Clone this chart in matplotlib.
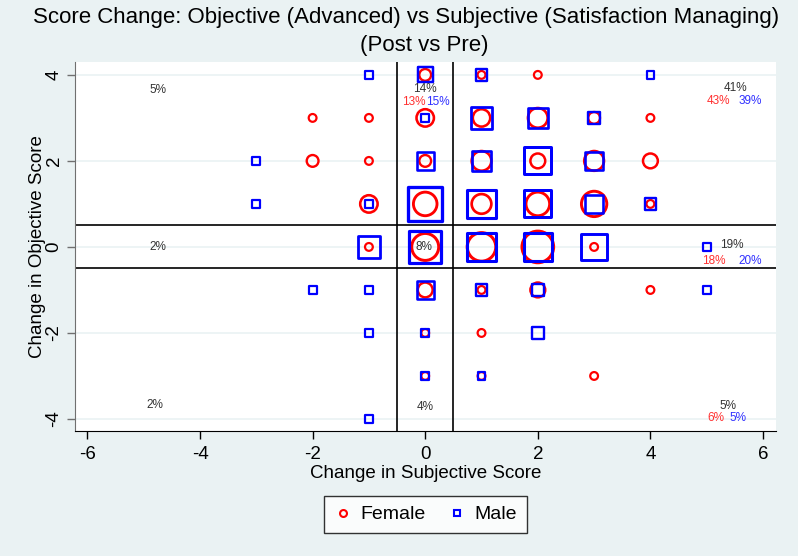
"""
Score change scatter: objective vs subjective, weighted by frequency.
"""

import numpy as np
import matplotlib
matplotlib.use("Agg")
import matplotlib.pyplot as plt
from matplotlib.lines import Line2D

plt.rcParams['font.family'] = ['Liberation Sans', 'DejaVu Sans']
plt.rcParams['axes.unicode_minus'] = False

# female: change in subjective (x), change in objective (y), count
female_x = [0, 1, 2,
            -2, -1, 0, 1, 2, 3, 4,
            -2, -1, 0, 1, 2, 3, 4,
            -1, 0, 1, 2, 3, 4,
            -1, 0, 1, 2, 3,
            0, 1, 2, 4,
            0, 1,
            0, 1, 3]
female_y = [4, 4, 4,
            3, 3, 3, 3, 3, 3, 3,
            2, 2, 2, 2, 2, 2, 2,
            1, 1, 1, 1, 1, 1,
            0, 0, 0, 0, 0,
            -1, -1, -1, -1,
            -2, -2,
            -3, -3, -3]
female_n = [2, 1, 1,
            1, 1, 4, 4, 5, 2, 1,
            2, 1, 2, 5, 3, 5, 3,
            4, 7, 5, 7, 8, 1,
            1, 9, 10, 12, 1,
            3, 1, 3, 1,
            1, 1,
            1, 1, 1]

# male
male_x = [-1, 0, 1, 4,
          0, 1, 2, 3,
          -3, 0, 1, 2, 3,
          -3, -1, 0, 1, 2, 3, 4,
          -1, 0, 1, 2, 3, 5,
          -2, -1, 0, 1, 2, 5,
          -1, 0, 2,
          0, 1,
          -1]
male_y = [4, 4, 4, 4,
          3, 3, 3, 3,
          2, 2, 2, 2, 2,
          1, 1, 1, 1, 1, 1, 1,
          0, 0, 0, 0, 0, 0,
          -1, -1, -1, -1, -1, -1,
          -2, -2, -2,
          -3, -3,
          -4]
male_n = [1, 3, 2, 1,
          1, 6, 5, 2,
          1, 4, 5, 9, 4,
          1, 1, 14, 10, 9, 4, 2,
          6, 12, 10, 10, 8, 1,
          1, 1, 4, 2, 2, 1,
          1, 1, 2,
          1, 1,
          1]

# quadrant shares: overall, female, male
pct_text = ["5%", "14%", "13%", "15%", "41%", "43%", "39%",
            "2%", "8%", "19%", "18%", "20%",
            "2%", "4%", "5%", "6%", "5%"]
pct_group = ["all", "all", "f", "m", "all", "f", "m",
             "all", "all", "all", "f", "m",
             "all", "all", "all", "f", "m"]
pct_x = [-4.74, 0.0, -0.21, 0.23, 5.51, 5.20, 5.77,
         -4.74, -0.03, 5.45, 5.12, 5.77,
         -4.80, 0.0, 5.38, 5.17, 5.56]
pct_y = [3.65, 3.68, 3.38, 3.38, 3.70, 3.40, 3.40,
         0.0, 0.0, 0.05, -0.33, -0.33,
         -3.67, -3.72, -3.70, -3.98, -3.98]

pct_colors = {"all": "#333333", "f": "#ff3030", "m": "#3030ff"}

bg = "#eaf2f3"


def marker_style(n):
    # outer size grows with sqrt(count); thicker outline for bigger markers
    n = np.asarray(n, dtype=float)
    lw_px = 1.8 + 0.4 * np.sqrt(n)
    d_px = 10 * np.sqrt(n) - lw_px
    return (d_px * 0.72) ** 2, lw_px * 0.72


fig = plt.figure(figsize=(7.98, 5.56), dpi=100, facecolor=bg)
ax = fig.add_axes([0.094, 0.2248, 0.8784, 0.6637])
ax.set_facecolor("white")

s_f, lw_f = marker_style(female_n)
s_m, lw_m = marker_style(male_n)

ax.scatter(female_x, female_y, s=s_f, marker="o", facecolors="none",
           edgecolors="red", linewidths=lw_f, zorder=3)
ax.scatter(male_x, male_y, s=s_m, marker="s", facecolors="none",
           edgecolors="blue", linewidths=lw_m, zorder=4)

# quadrant cut lines
for v in (-0.5, 0.5):
    ax.axhline(v, color="black", lw=1.2, zorder=2)
    ax.axvline(v, color="black", lw=1.2, zorder=2)

for t, g, x, y in zip(pct_text, pct_group, pct_x, pct_y):
    ax.text(x, y, t, color=pct_colors[g], fontsize=8.5,
            ha="center", va="center", zorder=6)

ax.set_xlim(-6.22, 6.23)
ax.set_ylim(-4.28, 4.30)
ax.set_xticks([-6, -4, -2, 0, 2, 4, 6])
ax.set_yticks([-4, -2, 0, 2, 4])
ax.yaxis.grid(True, color=bg, lw=1.2, zorder=0)
ax.set_axisbelow(True)

for side in ("top", "right"):
    ax.spines[side].set_visible(False)
ax.spines["left"].set_color("#707070")
ax.spines["bottom"].set_color("black")

ax.tick_params(axis="both", labelsize=13.5, length=6, width=1,
               direction="out")
ax.tick_params(axis="x", pad=5)
ax.tick_params(axis="y", colors="#707070", labelcolor="black", pad=3)
plt.setp(ax.get_yticklabels(), rotation=90, va="center")

ax.set_xlabel("Change in Subjective Score", fontsize=13.5, labelpad=1)
ax.set_ylabel("Change in Objective Score", fontsize=13.5, labelpad=0)

fig.text(0.509, 0.969,
         "Score Change: Objective (Advanced) vs Subjective (Satisfaction Managing)",
         ha="center", va="center", fontsize=16)
fig.text(0.532, 0.918, "(Post vs Pre)", ha="center", va="center", fontsize=16)

handles = [
    Line2D([], [], marker="o", ls="none", markerfacecolor="none",
           markeredgecolor="red", markersize=5, markeredgewidth=1.5,
           label="Female"),
    Line2D([], [], marker="s", ls="none", markerfacecolor="none",
           markeredgecolor="blue", markersize=5, markeredgewidth=1.5,
           label="Male"),
]
leg = fig.legend(handles=handles, loc="center", bbox_to_anchor=(0.533, 0.0746),
                 ncol=2, fontsize=14, frameon=True, fancybox=False,
                 handletextpad=0.4, columnspacing=1.1, borderpad=0.5,
                 handlelength=1.0)
leg.get_frame().set_edgecolor("black")
leg.get_frame().set_linewidth(1.0)

fig.savefig("out.png", dpi=100, facecolor=bg)
